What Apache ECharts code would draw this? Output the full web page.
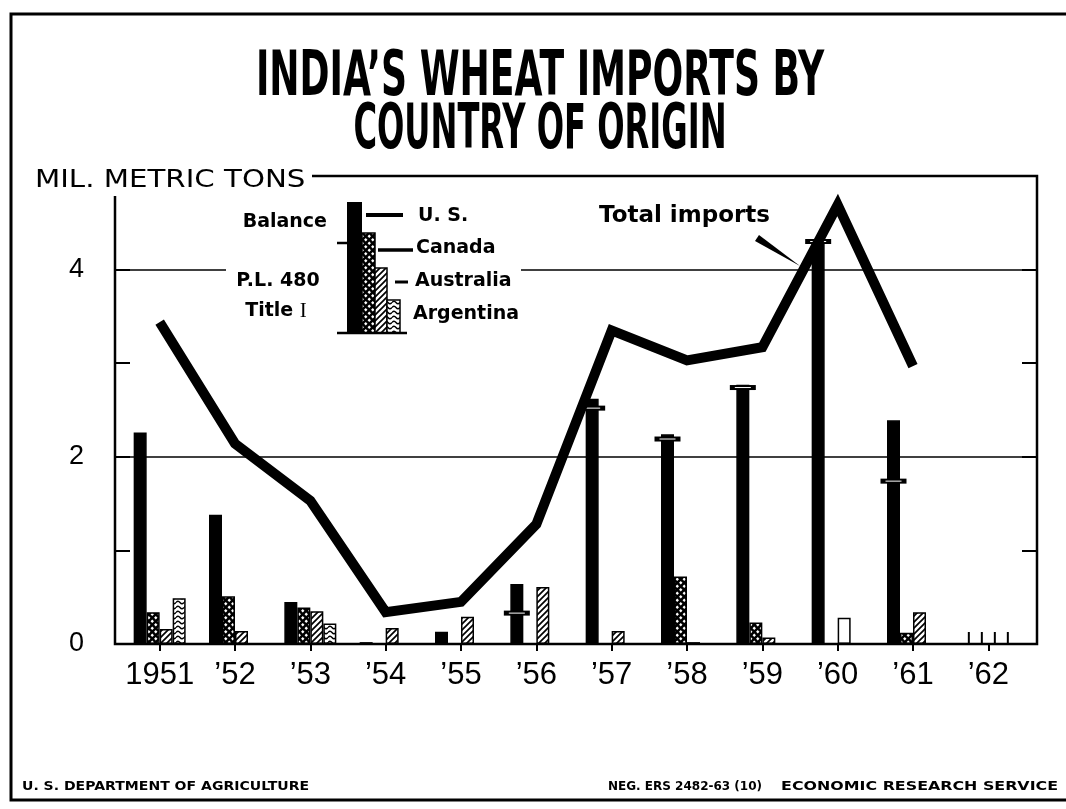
<!DOCTYPE html>
<html>
<head>
<meta charset="utf-8">
<title>India's wheat imports by country of origin</title>
<script src="https://cdn.jsdelivr.net/npm/echarts@6/dist/echarts.min.js"></script>
<style>
  html, body { margin: 0; padding: 0; background: #fff; }
  #chart { width: 1066px; height: 809px; }
</style>
</head>
<body>
<div id="chart"></div>
<script>
// mil. metric tons
const years = ["1951", "’52", "’53", "’54", "’55", "’56", "’57", "’58", "’59", "’60", "’61", "’62"];
const totalImports = [3.44, 2.14, 1.53, 0.34, 0.45, 1.28, 3.35, 3.03, 3.17, 4.69, 2.97, null];
const usTitleI = [0, 0, 0, 0, 0, 0.33, 2.52, 2.19, 2.74, 4.30, 1.74, null]; // P.L. 480 Title I part
const usBalance = [2.26, 1.38, 0.45, 0.02, 0.13, 0.31, 0.10, 0.05, 0.03, 0, 0.65, null];
const canada = [0.34, 0.51, 0.39, 0, 0, 0, 0, 0.72, 0.23, 0, 0.12, null];
const australia = [0.16, 0.14, 0.35, 0.17, 0.29, 0.61, 0.14, 0.02, 0.07, 0, 0.34, null];
const unshaded = [0, 0, 0, 0, 0, 0, 0, 0, 0, 0.28, 0, null]; // open bar in 1960
const argentina = [0.49, 0, 0.22, 0, 0, 0, 0, 0, 0, 0, 0, null];
const pendingYears = ["’62"]; // only stub marks, no figures yet
const yLabelled = [0, 2, 4];
const gridValues = [2, 4];

const BAR_W = 13;

// fill patterns like the printed shadings
function makePattern(kind) {
  const c = document.createElement("canvas");
  const ctx = c.getContext("2d");
  if (kind === "check") {
    c.width = 7; c.height = 7;
    ctx.fillStyle = "#000"; ctx.fillRect(0, 0, 7, 7);
    ctx.fillStyle = "#fff";
    [[1.75, 1.75], [5.25, 5.25]].forEach(function (p) {
      ctx.beginPath();
      ctx.moveTo(p[0], p[1] - 1.7); ctx.lineTo(p[0] + 1.7, p[1]);
      ctx.lineTo(p[0], p[1] + 1.7); ctx.lineTo(p[0] - 1.7, p[1]);
      ctx.closePath(); ctx.fill();
    });
  } else if (kind === "hatch") {
    c.width = 6; c.height = 6;
    ctx.fillStyle = "#fff"; ctx.fillRect(0, 0, 6, 6);
    ctx.strokeStyle = "#000"; ctx.lineWidth = 1.7;
    ctx.beginPath();
    ctx.moveTo(0, 6); ctx.lineTo(6, 0);
    ctx.moveTo(-3, 3); ctx.lineTo(3, -3);
    ctx.moveTo(3, 9); ctx.lineTo(9, 3);
    ctx.stroke();
  } else if (kind === "wave") {
    c.width = 8; c.height = 5;
    ctx.fillStyle = "#fff"; ctx.fillRect(0, 0, 8, 5);
    ctx.strokeStyle = "#000"; ctx.lineWidth = 1.4;
    ctx.beginPath();
    ctx.moveTo(0, 2.5);
    ctx.quadraticCurveTo(2, 0, 4, 2.5);
    ctx.quadraticCurveTo(6, 5, 8, 2.5);
    ctx.stroke();
  }
  return { image: c, repeat: "repeat" };
}
const checkFill = makePattern("check");
const hatchFill = makePattern("hatch");
const waveFill = makePattern("wave");

function nz(arr) {
  return arr.map(function (v) { return v ? v : null; });
}

function barSeries(name, data, fill, stack) {
  return {
    name: name,
    type: "bar",
    stack: stack,
    data: nz(data),
    barWidth: BAR_W,
    barGap: "0%",
    z: 2,
    itemStyle: { color: fill, borderColor: "#000", borderWidth: 1.5 }
  };
}

const myChart = echarts.init(document.getElementById("chart"), null, { renderer: "canvas" });

const font = "'DejaVu Sans', sans-serif";
const titleFont = "'Liberation Sans Narrow', 'DejaVu Sans Condensed', sans-serif";

const option = {
  animation: false,
  backgroundColor: "#fff",
  grid: { left: 122, right: 40, top: 176, bottom: 165 },
  xAxis: {
    type: "category",
    data: years,
    boundaryGap: true,
    axisLine: { show: false },
    axisTick: { show: true, alignWithLabel: true, length: 7, lineStyle: { color: "#000", width: 2 } },
    axisLabel: { color: "#000", fontFamily: "'Liberation Sans', sans-serif", fontSize: 31, margin: 16, interval: 0, hideOverlap: false },
    splitLine: { show: false }
  },
  yAxis: [
    {
      type: "value", min: 0, max: 5, interval: 1, position: "left", offset: 7,
      axisLine: { show: false },
      axisTick: { show: true, inside: true, length: 15, lineStyle: { color: "#000", width: 2 } },
      axisLabel: {
        color: "#000", fontFamily: "'Liberation Sans', sans-serif", fontSize: 27, margin: 31,
        formatter: function (v) { return yLabelled.indexOf(v) >= 0 ? String(v) : ""; }
      },
      splitLine: { show: false }
    },
    {
      type: "value", min: 0, max: 5, interval: 1, position: "right", offset: 11,
      axisLine: { show: false },
      axisTick: { show: true, inside: true, length: 15, lineStyle: { color: "#000", width: 2 } },
      axisLabel: { show: false },
      splitLine: { show: false }
    }
  ],
  series: [
    Object.assign(barSeries("U.S. P.L. 480 Title I", usTitleI, "#000", "us"), {
      markLine: {
        silent: true, symbol: "none", z: 1,
        label: { show: false },
        lineStyle: { color: "#000", width: 1.6, type: "solid" },
        data: gridValues.map(function (v) { return { yAxis: v }; })
      }
    }),
    barSeries("U.S. balance", usBalance, "#000", "us"),
    barSeries("Canada", canada, checkFill, "ca"),
    barSeries("Australia", australia, hatchFill, "au"),
    barSeries("Unshaded", unshaded, "#fff", "au"),
    barSeries("Argentina", argentina, waveFill, "ar"),
    {
      // flange on the U.S. bar: top of the P.L. 480 Title I part
      name: "Title I level",
      type: "custom",
      z: 4,
      data: usTitleI.map(function (v, i) { return [i, v > 0 ? v : null]; }),
      renderItem: function (params, api) {
        const v = api.value(1);
        if (!(v > 0)) return null;
        const pt = api.coord([api.value(0), v]);
        const slot = api.barLayout({ count: 4, barWidth: BAR_W, barGap: "0%" })[0];
        const cx = pt[0] + slot.offsetCenter;
        return {
          type: "group",
          children: [
            { type: "rect", shape: { x: cx - 13, y: pt[1] - 2.5, width: 26, height: 5 }, style: { fill: "#000" } },
            { type: "line", shape: { x1: cx - 8, y1: pt[1], x2: cx + 8, y2: pt[1] }, style: { stroke: "#fff", lineWidth: 1 } }
          ]
        };
      }
    },
    {
      name: "Not yet available",
      type: "custom",
      z: 4,
      data: pendingYears.map(function (y) { return [years.indexOf(y), 0]; }),
      renderItem: function (params, api) {
        const base = api.coord([api.value(0), 0]);
        const slots = api.barLayout({ count: 4, barWidth: BAR_W, barGap: "0%" });
        return {
          type: "group",
          children: slots.map(function (s) {
            const x = base[0] + s.offsetCenter;
            return { type: "line", shape: { x1: x, y1: base[1], x2: x, y2: base[1] - 12 }, style: { stroke: "#000", lineWidth: 2 } };
          })
        };
      }
    },
    {
      name: "Total imports",
      type: "line",
      data: totalImports,
      symbol: "none",
      z: 5,
      lineStyle: { color: "#000", width: 10, join: "miter", cap: "butt" }
    }
  ],
  graphic: [
    // outer border of the sheet
    { type: "polyline", z: 50, shape: { points: [[1066, 14], [11, 14], [11, 800], [1066, 800]] }, style: { stroke: "#000", lineWidth: 3, fill: null } },
    // chart frame, open at top left for the unit label
    { type: "polyline", z: 50, shape: { points: [[312, 176], [1037, 176], [1037, 644], [115, 644], [115, 196]] }, style: { stroke: "#000", lineWidth: 2.5, fill: null } },
    { type: "text", z: 50, x: 540, y: 79, scaleX: 0.82, scaleY: 1.28, style: { text: "INDIA’S WHEAT IMPORTS BY", fontFamily: titleFont, fontWeight: "bold", fontSize: 49, fill: "#000", textAlign: "center", textVerticalAlign: "middle" } },
    { type: "text", z: 50, x: 540, y: 132, scaleX: 0.73, scaleY: 1.28, style: { text: "COUNTRY OF ORIGIN", fontFamily: titleFont, fontWeight: "bold", fontSize: 49, fill: "#000", textAlign: "center", textVerticalAlign: "middle" } },
    // unit label sits over the top tick of the left axis
    { type: "rect", z: 45, shape: { x: 110, y: 166, width: 30, height: 24 }, style: { fill: "#fff" } },
    { type: "text", z: 50, x: 35, y: 180, scaleX: 1.17, style: { text: "MIL. METRIC TONS", fontFamily: font, fontSize: 25, fill: "#000", textAlign: "left", textVerticalAlign: "middle" } },
    // total imports call-out
    { type: "text", z: 50, x: 599, y: 216, style: { text: "Total imports", fontFamily: font, fontWeight: "bold", fontSize: 23, fill: "#000", textAlign: "left", textVerticalAlign: "middle" } },
    { type: "polygon", z: 50, shape: { points: [[755, 241], [759, 235], [800, 266]] }, style: { fill: "#000" } },
    // legend block
    { type: "rect", z: 40, shape: { x: 226, y: 258, width: 295, height: 22 }, style: { fill: "#fff" } },
    { type: "rect", z: 50, shape: { x: 347, y: 202, width: 15, height: 131 }, style: { fill: "#000" } },
    { type: "rect", z: 50, shape: { x: 362, y: 233, width: 13, height: 100 }, style: { fill: checkFill, stroke: "#000", lineWidth: 1.5 } },
    { type: "rect", z: 50, shape: { x: 375, y: 268, width: 12, height: 65 }, style: { fill: hatchFill, stroke: "#000", lineWidth: 1.5 } },
    { type: "rect", z: 50, shape: { x: 387, y: 300, width: 13, height: 33 }, style: { fill: waveFill, stroke: "#000", lineWidth: 1.5 } },
    { type: "line", z: 50, shape: { x1: 337, y1: 333, x2: 407, y2: 333 }, style: { stroke: "#000", lineWidth: 2.5 } },
    { type: "line", z: 50, shape: { x1: 337, y1: 243, x2: 347, y2: 243 }, style: { stroke: "#000", lineWidth: 2.5 } },
    { type: "line", z: 50, shape: { x1: 366, y1: 215, x2: 403, y2: 215 }, style: { stroke: "#000", lineWidth: 4 } },
    { type: "line", z: 50, shape: { x1: 378, y1: 250, x2: 413, y2: 250 }, style: { stroke: "#000", lineWidth: 3.5 } },
    { type: "line", z: 50, shape: { x1: 395, y1: 282, x2: 408, y2: 282 }, style: { stroke: "#000", lineWidth: 3 } },
    { type: "text", z: 50, x: 418, y: 216, style: { text: "U. S.", fontFamily: font, fontWeight: "bold", fontSize: 19, fill: "#000", textVerticalAlign: "middle" } },
    { type: "text", z: 50, x: 416, y: 248, style: { text: "Canada", fontFamily: font, fontWeight: "bold", fontSize: 19, fill: "#000", textVerticalAlign: "middle" } },
    { type: "text", z: 50, x: 415, y: 281, style: { text: "Australia", fontFamily: font, fontWeight: "bold", fontSize: 19, fill: "#000", textVerticalAlign: "middle" } },
    { type: "text", z: 50, x: 413, y: 314, style: { text: "Argentina", fontFamily: font, fontWeight: "bold", fontSize: 19, fill: "#000", textVerticalAlign: "middle" } },
    { type: "text", z: 50, x: 327, y: 222, style: { text: "Balance", fontFamily: font, fontWeight: "bold", fontSize: 19, fill: "#000", textAlign: "right", textVerticalAlign: "middle" } },
    { type: "text", z: 50, x: 278, y: 281, style: { text: "P.L. 480", fontFamily: font, fontWeight: "bold", fontSize: 19, fill: "#000", textAlign: "center", textVerticalAlign: "middle" } },
    { type: "text", z: 50, x: 276, y: 311, style: { text: "Title {r|I}", fontFamily: font, fontWeight: "bold", fontSize: 19, fill: "#000", textAlign: "center", textVerticalAlign: "middle", rich: { r: { fontFamily: "'Liberation Serif', serif", fontSize: 21, fontWeight: "normal" } } } },
    // credits
    { type: "text", z: 50, x: 22, y: 787, scaleX: 1.08, style: { text: "U. S. DEPARTMENT OF AGRICULTURE", fontFamily: font, fontWeight: "bold", fontSize: 13, fill: "#000", textVerticalAlign: "middle" } },
    { type: "text", z: 50, x: 608, y: 787, style: { text: "NEG. ERS 2482-63 (10)", fontFamily: font, fontWeight: "bold", fontSize: 12, fill: "#000", textVerticalAlign: "middle" } },
    { type: "text", z: 50, x: 1058, y: 787, scaleX: 1.22, style: { text: "ECONOMIC RESEARCH SERVICE", fontFamily: font, fontWeight: "bold", fontSize: 13, fill: "#000", textAlign: "right", textVerticalAlign: "middle" } }
  ]
};

myChart.setOption(option);
window.addEventListener("resize", function () {
  myChart.resize();
});
</script>
</body>
</html>
